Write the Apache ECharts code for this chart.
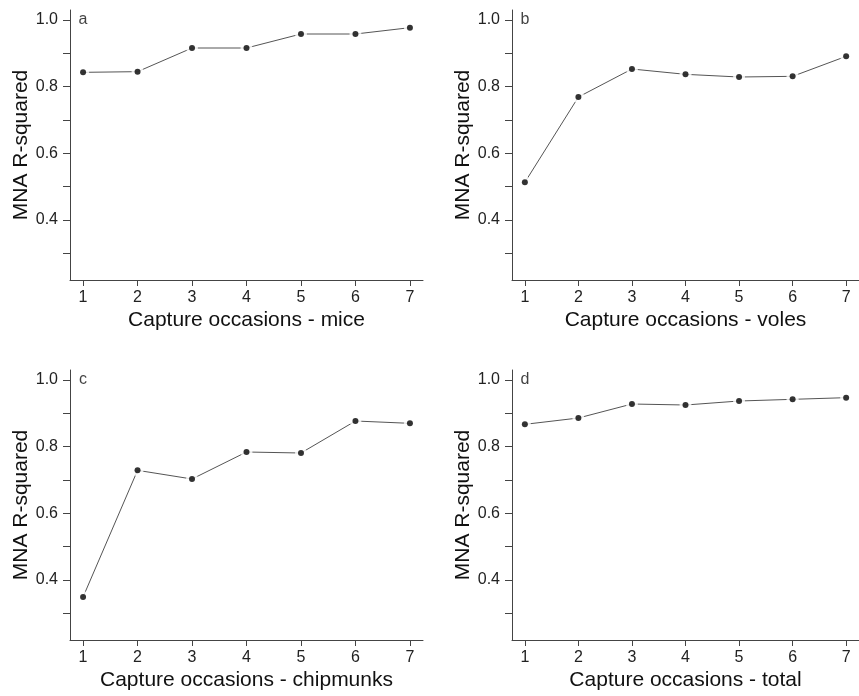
<!DOCTYPE html>
<html>
<head>
<meta charset="utf-8">
<script src="https://cdn.jsdelivr.net/npm/echarts@6/dist/echarts.min.js"></script>
<style>
  html, body { margin: 0; padding: 0; background: #fff; }
  #chart { width: 859px; height: 696px; }
</style>
</head>
<body>
<div id="chart"></div>
<script>
// capture occasions on the x axis
var occasions = [1, 2, 3, 4, 5, 6, 7];

// MNA R-squared
var miceR2 = [0.843, 0.845, 0.916, 0.916, 0.958, 0.958, 0.977];
var volesR2 = [0.513, 0.769, 0.853, 0.837, 0.829, 0.831, 0.891];
var chipmunksR2 = [0.349, 0.729, 0.703, 0.784, 0.781, 0.877, 0.870];
var totalR2 = [0.867, 0.886, 0.928, 0.925, 0.937, 0.942, 0.947];

var yTickValues = [0.3, 0.4, 0.5, 0.6, 0.7, 0.8, 0.9, 1.0];
var yLabelValues = [0.4, 0.6, 0.8, 1.0];
var panelLetters = ['a', 'b', 'c', 'd'];
var xTitles = [
  'Capture occasions - mice',
  'Capture occasions - voles',
  'Capture occasions - chipmunks',
  'Capture occasions - total'
];
var yTitle = 'MNA R-squared';

var allSeries = [miceR2, volesR2, chipmunksR2, totalR2];
var font = "'Liberation Sans', Arial, sans-serif";
var axisColor = '#444';

// panel placement (left, top) in px
var panelPos = [[70, 10], [512, 10], [70, 370], [512, 370]];

var grids = [], xAxes = [], yAxes = [], series = [];

for (var i = 0; i < 4; i++) {
  grids.push({
    left: panelPos[i][0], top: panelPos[i][1],
    width: 353, height: 270,
    containLabel: false
  });

  xAxes.push({
    type: 'value', gridIndex: i,
    min: 0.76, max: 7.24,
    name: xTitles[i], nameLocation: 'middle', nameGap: 30,
    nameTextStyle: { fontFamily: font, fontSize: 21, color: '#111' },
    axisLine: { show: true, onZero: false, lineStyle: { color: axisColor, width: 1 } },
    axisTick: { show: true, length: 6, customValues: occasions, lineStyle: { color: axisColor } },
    axisLabel: { customValues: occasions, margin: 10, fontFamily: font, fontSize: 16, color: '#222' },
    splitLine: { show: false }
  });

  yAxes.push({
    type: 'value', gridIndex: i,
    min: 0.22, max: 1.03,
    name: yTitle, nameLocation: 'middle', nameGap: 36,
    nameTextStyle: { fontFamily: font, fontSize: 21, color: '#111' },
    axisLine: { show: true, onZero: false, lineStyle: { color: axisColor, width: 1 } },
    axisTick: { show: true, length: 7, customValues: yTickValues, lineStyle: { color: axisColor } },
    axisLabel: {
      customValues: yLabelValues, margin: 12, fontFamily: font, fontSize: 16, color: '#222',
      formatter: function (v) { return v.toFixed(1); }
    },
    splitLine: { show: false }
  });

  var pts = occasions.map(function (x, k) { return [x, allSeries[i][k]]; });

  series.push({
    type: 'line', xAxisIndex: i, yAxisIndex: i,
    data: pts, showSymbol: false, silent: true,
    lineStyle: { color: '#555', width: 1 },
    z: 2
  });
  // white halo gives the gaps of an R type="b" plot
  series.push({
    type: 'scatter', xAxisIndex: i, yAxisIndex: i,
    data: pts, symbolSize: 12, silent: true,
    itemStyle: { color: '#fff' },
    z: 3
  });
  series.push({
    type: 'scatter', xAxisIndex: i, yAxisIndex: i,
    data: pts, symbolSize: 6, silent: true,
    itemStyle: { color: '#000' },
    z: 4
  });
  // panel letter at (1, 1.0)
  series.push({
    type: 'scatter', xAxisIndex: i, yAxisIndex: i,
    data: [[occasions[0], 1.0]], symbolSize: 0, silent: true,
    label: {
      show: true, position: 'inside', formatter: panelLetters[i],
      fontFamily: font, fontSize: 16, color: '#111'
    },
    z: 5
  });
}

var chart = echarts.init(document.getElementById('chart'), null, { renderer: 'canvas' });
chart.setOption({
  animation: false,
  backgroundColor: '#fff',
  grid: grids,
  xAxis: xAxes,
  yAxis: yAxes,
  series: series
});
</script>
</body>
</html>
